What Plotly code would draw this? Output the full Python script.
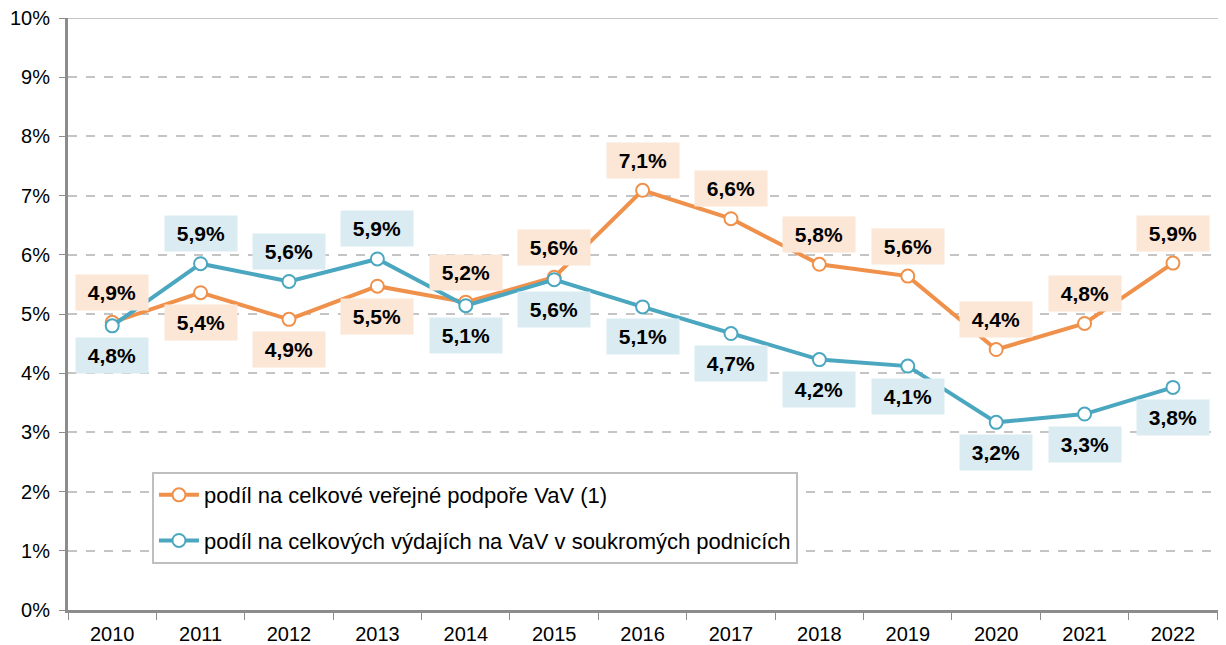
import plotly.graph_objects as go

# data
years = ["2010", "2011", "2012", "2013", "2014", "2015", "2016",
         "2017", "2018", "2019", "2020", "2021", "2022"]
verejna = [4.86, 5.36, 4.91, 5.47, 5.2, 5.62, 7.09, 6.61, 5.84, 5.64, 4.4, 4.84, 5.86]
soukroma = [4.8, 5.85, 5.55, 5.93, 5.14, 5.58, 5.12, 4.67, 4.23, 4.12, 3.17, 3.31, 3.76]
verejna_lbl = ["4,9%", "5,4%", "4,9%", "5,5%", "5,2%", "5,6%", "7,1%",
               "6,6%", "5,8%", "5,6%", "4,4%", "4,8%", "5,9%"]
soukroma_lbl = ["4,8%", "5,9%", "5,6%", "5,9%", "5,1%", "5,6%", "5,1%",
                "4,7%", "4,2%", "4,1%", "3,2%", "3,3%", "3,8%"]
# label above (1) or below (-1) the point
verejna_pos = [1, -1, -1, -1, 1, 1, 1, 1, 1, 1, 1, 1, 1]
soukroma_pos = [-1, 1, 1, 1, -1, -1, -1, -1, -1, -1, -1, -1, -1]

ORANGE = "#F0914B"
TEAL = "#4BA7C0"
FONT = "Liberation Sans, Arial, sans-serif"

fig = go.Figure()
fig.add_trace(go.Scatter(
    x=years, y=verejna, mode="lines+markers",
    name="podíl na celkové veřejné podpoře VaV (1)", legendgroup="a",
    line=dict(color=ORANGE, width=4),
    marker=dict(size=13, color="white", line=dict(color=ORANGE, width=2)),
))
fig.add_trace(go.Scatter(
    x=years, y=soukroma, mode="lines+markers",
    name="podíl na celkových výdajích na VaV v soukromých podnicích", legendgroup="b",
    line=dict(color=TEAL, width=4),
    marker=dict(size=13, color="white", line=dict(color=TEAL, width=2)),
))

for ys, lbls, pos, bg in [(verejna, verejna_lbl, verejna_pos, "#FCE6D6"),
                          (soukroma, soukroma_lbl, soukroma_pos, "#DAECF2")]:
    for i, (y, t, p) in enumerate(zip(ys, lbls, pos)):
        fig.add_annotation(
            x=i, y=y, xref="x", yref="y",
            text="&nbsp;<b>" + t + "</b>&nbsp;", showarrow=False,
            yshift=30 * p, bgcolor=bg, borderpad=6,
            font=dict(family=FONT, size=21, color="black"),
        )

# solid top border at 10 %
fig.add_shape(type="line", xref="paper", yref="y", x0=0, x1=1, y0=10, y1=10,
              line=dict(color="#C4C4C4", width=2))

# page body has an 8px margin, so the figure is a bit smaller than the window
fig.update_layout(
    width=1218, height=637,
    margin=dict(l=60, r=0, t=10, b=35),
    plot_bgcolor="white", paper_bgcolor="white",
    font=dict(family=FONT, size=20, color="black"),
    showlegend=True,
    legend=dict(
        x=0.0725, y=0.233, xanchor="left", yanchor="top",
        bgcolor="white", bordercolor="#BFBFBF", borderwidth=2,
        font=dict(family=FONT, size=22, color="black"),
        traceorder="grouped", tracegroupgap=14, itemwidth=40,
    ),
    xaxis=dict(
        type="category", range=[-0.5, 12.6], automargin=False,
        showline=True, linecolor="#8C8C8C", linewidth=3,
        ticks="outside", tickson="boundaries", ticklen=7, tickcolor="#8C8C8C",
        showgrid=False, tickfont=dict(size=20), ticklabelstandoff=4,
        ticklabeloverflow="allow",
    ),
    yaxis=dict(
        range=[0, 10], dtick=1, ticksuffix="%", automargin=False,
        showline=True, linecolor="#8C8C8C", linewidth=3,
        ticks="outside", ticklen=6, tickcolor="#8C8C8C",
        gridcolor="#C4C4C4", griddash="dash", gridwidth=2,
        zeroline=False, tickfont=dict(size=20), ticklabelstandoff=5,
        ticklabeloverflow="allow",
    ),
)

fig.write_html("out.html")
